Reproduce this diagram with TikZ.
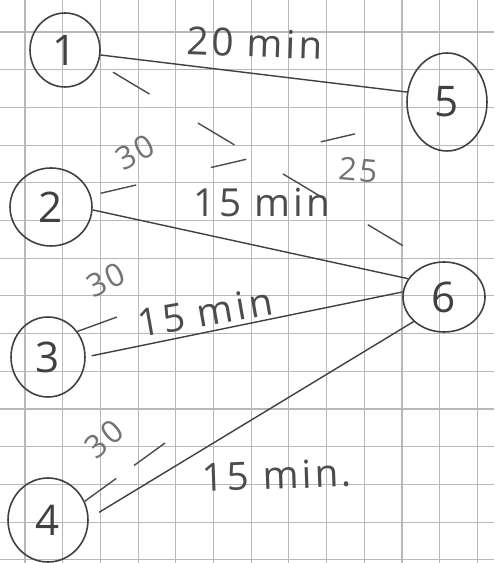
\documentclass[tikz,border=0pt]{standalone}
\usepackage{fontspec}
\newfontfamily\hand[LetterSpace=8]{Open Sans}
\usepackage{tikz}
\usetikzlibrary{shapes.geometric}

\begin{document}
\begin{tikzpicture}[
  x=0.02cm, y=-0.02cm,
  gridline/.style={draw=black!28, line width=0.6pt},
  place/.style={ellipse, draw=black!75, line width=0.9pt, inner sep=0pt,
                font=\hand\fontsize{24}{26}\selectfont, text=black!75},
  edge/.style={draw=black!75, line width=0.8pt},
  dashline/.style={draw=black!70, line width=0.8pt},
  lbl/.style={font=\hand\fontsize{22}{24}\selectfont, text=black!70, inner sep=0pt},
  slbl/.style={font=\hand\fontsize{18}{20}\selectfont, text=black!55, inner sep=0pt}
]
\useasboundingbox (0,0) rectangle (494,563);
\fill[white] (0,0) rectangle (494,563);
%% ── Squared paper ───────────────────────────────────────────────────────
\foreach \k in {0,...,12}
  \draw[gridline] ({25+37.7*\k},0) -- ({25+37.7*\k},563);
\foreach \k in {0,...,14}
  \draw[gridline] (0,{32+37.7*\k}) -- (494,{32+37.7*\k});
%% ── Places (left column 1-4, right column 5-6) ──────────────────────────
\node[place, minimum width=1.40cm, minimum height=1.48cm] (n1) at (65,50)  {1};
\node[place, minimum width=1.64cm, minimum height=1.56cm] (n2) at (51,207) {2};
\node[place, minimum width=1.48cm, minimum height=1.60cm] (n3) at (48,357) {3};
\node[place, minimum width=1.60cm, minimum height=1.68cm] (n4) at (48,520) {4};
\node[place, minimum width=1.60cm, minimum height=1.96cm] (n5) at (447,102) {5};
\node[place, minimum width=1.64cm, minimum height=1.40cm] (n6) at (444,297) {6};
%% ── Free ends of the short dashed strokes ───────────────────────────────
\coordinate (t3) at (117,317);
\coordinate (t4) at (165,443);
%% ── Solid connections ───────────────────────────────────────────────────
\draw[edge] (n1.-8) -- (n5.166);
\draw[edge] (n2.-4) -- (n6.153);
\draw[edge, shorten <=0.12cm] (n3.0) -- (n6.173);
\draw[edge, shorten <=0.24cm] (n4.2) -- (n6.219);
%% ── Dashed connections ──────────────────────────────────────────────────
\draw[dashline, dash pattern=on 0.85cm off 1.13cm,
      shorten <=0.34cm, shorten >=0.67cm] (n1.-22) -- (n6.110);
\draw[dashline, dash pattern=on 0.73cm off 1.53cm,
      shorten <=0.2cm, shorten >=1.12cm] (n2.16) -- (n5.207);
\draw[dashline] (n3.41) -- (t3);
\draw[dashline, dash pattern=on 0.78cm off 0.44cm] (n4.27) -- (t4);
%% ── Labels ──────────────────────────────────────────────────────────────
\node[lbl, rotate=-2] (l15) at (255,43) {20 min};
\node[slbl, rotate=28] (l25) at (135,152) {30};
\node[slbl, rotate=-5] (l16) at (358,170) {25};
\node[lbl] (l26) at (262,203) {15 min};
\node[slbl, rotate=25] (l35) at (106,280) {30};
\node[lbl, rotate=10] (l36) at (205,312) {15 min};
\node[slbl, rotate=40] (l45) at (104,439) {30};
\node[lbl, rotate=2] (l46) at (277,475) {15 min.};
\end{tikzpicture}
\end{document}
